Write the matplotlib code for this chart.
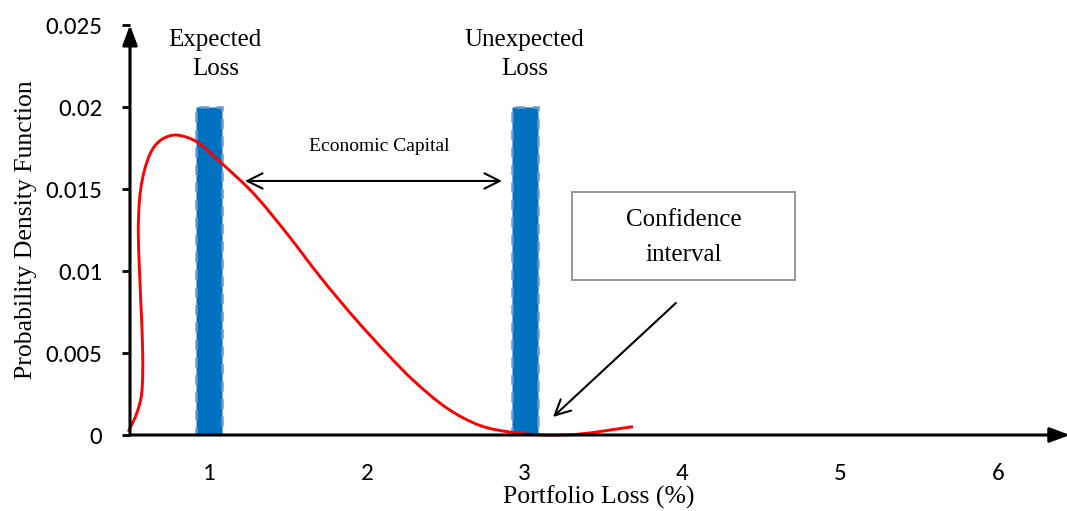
import numpy as np
import matplotlib
matplotlib.use("Agg")
import matplotlib.pyplot as plt
from matplotlib.path import Path
from matplotlib.patches import PathPatch, Rectangle

# ---- data ----
bar_x = [1, 3]
bar_h = [0.02, 0.02]
bar_labels = ["Expected\nLoss", "Unexpected\nLoss"]

curve_x = [0.4886, 0.5418, 0.5735, 0.5798, 0.5672, 0.5520, 0.5600, 0.5780, 0.6050,
           0.6470, 0.7104, 0.7953, 0.9221, 1.0697, 1.2809, 1.4924, 1.7034, 1.9146,
           2.1261, 2.2928, 2.5063, 2.7174, 2.9265, 3.129, 3.351, 3.687]
curve_y = [0.00020, 0.00132, 0.00254, 0.00500, 0.00823, 0.01232, 0.01440, 0.01560, 0.01660,
           0.01750, 0.01808, 0.01829, 0.01788, 0.01666, 0.01474, 0.01230, 0.00966, 0.00722,
           0.00498, 0.00335, 0.00165, 0.00058, 0.00015, 0.00000, 0.00006, 0.00051]

x_ticks = [1, 2, 3, 4, 5, 6]
y_ticks = [0, 0.005, 0.01, 0.015, 0.02, 0.025]
y_tick_labels = ["0", "0.005", "0.01", "0.015", "0.02", "0.025"]

SERIF = ["Liberation Serif", "DejaVu Serif"]
SANS = ["Carlito", "Liberation Sans Narrow", "Open Sans", "DejaVu Sans"]

fig = plt.figure(figsize=(10.67, 5.11), dpi=100)
ax = fig.add_axes([130 / 1067, 76 / 511, 1 - 130 / 1067, (435 - 25) / 511])
ax.set_xlim(0.4994, 1 + (1067 - 209) / 157.8)
ax.set_ylim(0, 0.025)

for s in ax.spines.values():
    s.set_visible(False)

# bars
ax.bar(bar_x, bar_h, width=0.165, color="#0070C0", edgecolor="#6A9AD4",
       linestyle=(0, (4, 3)), linewidth=1.8, zorder=2)

# smooth curve: chord-length parametrised cubic Bezier through the points
sx, sy = 157.8, 82 / 0.005
P = np.column_stack([np.array(curve_x) * sx, np.array(curve_y) * sy])
n = len(P)
d = np.sqrt(np.sum(np.diff(P, axis=0) ** 2, axis=1))
t = np.concatenate([[0], np.cumsum(d)])
M = np.zeros_like(P)
for i in range(n):
    if i == 0:
        M[i] = (P[1] - P[0]) / (t[1] - t[0])
    elif i == n - 1:
        M[i] = (P[-1] - P[-2]) / (t[-1] - t[-2])
    else:
        M[i] = (P[i + 1] - P[i - 1]) / (t[i + 1] - t[i - 1])
verts = [P[0]]
codes = [Path.MOVETO]
for i in range(n - 1):
    h = t[i + 1] - t[i]
    verts += [P[i] + M[i] * h / 3, P[i + 1] - M[i + 1] * h / 3, P[i + 1]]
    codes += [Path.CURVE4] * 3
verts = np.array(verts) / np.array([sx, sy])
path = Path(verts, codes)
ax.add_patch(PathPatch(path, facecolor="none", edgecolor="#FF0000", lw=2.1,
                       zorder=3, clip_on=False))

# axes with arrows
ax.annotate("", xy=(0, 1.0), xytext=(0, 0), xycoords="axes fraction",
            arrowprops=dict(arrowstyle="-|>,head_length=1.2,head_width=0.45",
                            color="black", lw=2.2, shrinkA=0, shrinkB=0),
            annotation_clip=False, zorder=5)
ax.annotate("", xy=(1.003, 0), xytext=(0, 0), xycoords="axes fraction",
            arrowprops=dict(arrowstyle="-|>,head_length=1.2,head_width=0.45",
                            color="black", lw=2.2, shrinkA=0, shrinkB=0),
            annotation_clip=False, zorder=5)

# ticks
ax.set_yticks(y_ticks)
ax.set_yticklabels(y_tick_labels, fontfamily=SANS, fontsize=18)
ax.set_xticks(x_ticks)
ax.set_xticklabels([str(v) for v in x_ticks], fontfamily=SANS, fontsize=18)
ax.tick_params(axis="y", length=6, width=2, pad=14, direction="out")
ax.tick_params(axis="x", length=0, pad=20)

ax.set_ylabel("Probability Density Function", fontfamily=SERIF, fontsize=18.5, labelpad=6)
ax.set_xlabel("Portfolio Loss (%)", fontfamily=SERIF, fontsize=18.5, labelpad=1)

# labels above bars
ax.text(1.04, 0.0232, bar_labels[0], ha="center", va="center", fontfamily=SERIF,
        fontsize=18, linespacing=1.4)
ax.text(3.0, 0.0232, bar_labels[1], ha="center", va="center", fontfamily=SERIF,
        fontsize=18, linespacing=1.4)

# economic capital arrow
ax.annotate("", xy=(1.228, 0.01549), xytext=(2.857, 0.01549),
            arrowprops=dict(arrowstyle="<->,head_length=1.1,head_width=0.55",
                            color="black", lw=1.5, shrinkA=0, shrinkB=0))
ax.text(2.08, 0.01757, "Economic Capital", ha="center", va="center",
        fontfamily=SERIF, fontsize=14)

# confidence interval box and arrow
x0 = 1 + (572 - 209) / 157.8
x1 = 1 + (795 - 209) / 157.8
y0 = (435 - 280) * 0.005 / 82
y1 = (435 - 192) * 0.005 / 82
ax.add_patch(Rectangle((x0, y0), x1 - x0, y1 - y0, facecolor="white",
                       edgecolor="#8C8C8C", lw=1.3, zorder=4))
ax.text((x0 + x1) / 2, (y0 + y1) / 2 - 0.0001, "Confidence\ninterval", ha="center",
        va="center", fontfamily=SERIF, fontsize=18, linespacing=1.75, zorder=5)
ax.annotate("", xy=(3.18, 0.0011), xytext=(3.959, 0.00805),
            arrowprops=dict(arrowstyle="->,head_length=1.1,head_width=0.55",
                            color="black", lw=1.5, shrinkA=0, shrinkB=0))

fig.savefig("out.png", dpi=100)
